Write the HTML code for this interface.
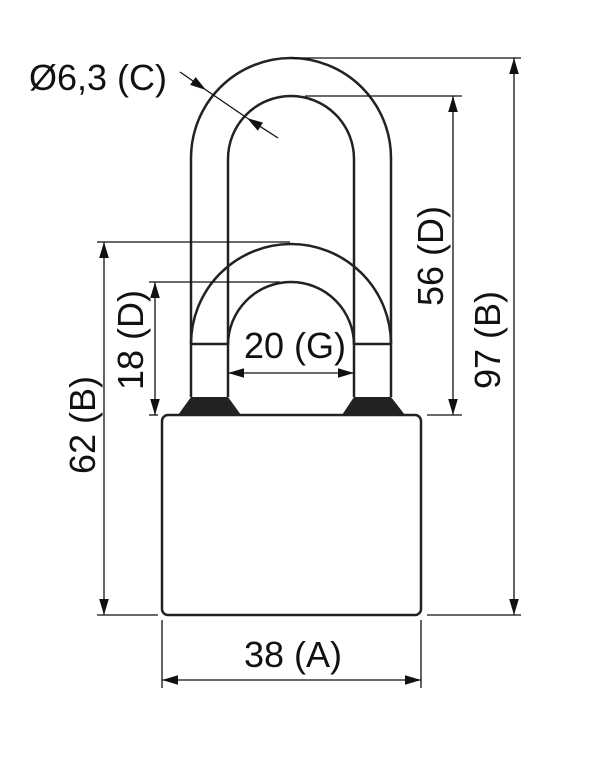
<!DOCTYPE html>
<html><head><style>html,body{margin:0;padding:0;background:#fff}</style></head><body>
<svg width="605" height="763" viewBox="0 0 605 763" xmlns="http://www.w3.org/2000/svg" font-family="Liberation Sans, sans-serif" font-size="36">
<defs>
<marker id="a" viewBox="0 0 10 10" refX="10" refY="5" markerWidth="16" markerHeight="16" markerUnits="userSpaceOnUse" orient="auto-start-reverse"><path d="M0,2 L10,5 L0,8 z" fill="#111"/></marker>
</defs>
<g fill="none" stroke="#222" stroke-width="2.5">
<path d="M191,397 V158 A100,100 0 0 1 391,158 V397"/>
<path d="M228,397 V159 A63,63 0 0 1 354,159 V397"/>
<path d="M191,344 A100,100 0 0 1 391,344"/>
<path d="M228,345 A63,63 0 0 1 354,345"/>
<line x1="191" y1="344" x2="228" y2="344"/>
<line x1="354" y1="344" x2="391" y2="344"/>
<rect x="162" y="415" width="259" height="200" rx="6"/>
</g>
<path d="M191,397 H228 L241,415 H178 Z" fill="#222"/>
<path d="M354,397 H391 L405,415 H342 Z" fill="#222"/>
<g stroke="#111" stroke-width="1.3" fill="none">
<line x1="291" y1="58" x2="521" y2="58"/>
<line x1="305" y1="96" x2="462" y2="96"/>
<line x1="427" y1="415" x2="462" y2="415"/>
<line x1="427" y1="615" x2="521" y2="615"/>
<line x1="97" y1="242" x2="290" y2="242"/>
<line x1="149" y1="282" x2="280" y2="282"/>
<line x1="97" y1="615" x2="158" y2="615"/>
<line x1="149" y1="415" x2="158" y2="415"/>
<line x1="162" y1="620" x2="162" y2="688"/>
<line x1="421" y1="620" x2="421" y2="688"/>
<line x1="514" y1="58" x2="514" y2="615" marker-start="url(#a)" marker-end="url(#a)"/>
<line x1="453" y1="96" x2="453" y2="415" marker-start="url(#a)" marker-end="url(#a)"/>
<line x1="104" y1="242" x2="104" y2="615" marker-start="url(#a)" marker-end="url(#a)"/>
<line x1="155" y1="282" x2="155" y2="415" marker-start="url(#a)" marker-end="url(#a)"/>
<line x1="162" y1="680" x2="421" y2="680" marker-start="url(#a)" marker-end="url(#a)"/>
<line x1="228" y1="373" x2="354" y2="373" marker-start="url(#a)" marker-end="url(#a)"/>
<line x1="180" y1="72" x2="206" y2="90" marker-end="url(#a)"/>
<line x1="278" y1="138" x2="247" y2="118" marker-end="url(#a)"/>
<line x1="206" y1="90" x2="247" y2="118"/>
</g>
<g fill="#111">
<text x="29" y="90">Ø6,3 (C)</text>
<text x="295" y="358" text-anchor="middle">20 (G)</text>
<text x="293" y="667" text-anchor="middle">38 (A)</text>
<text transform="translate(443,256) rotate(-90)" text-anchor="middle">56 (D)</text>
<text transform="translate(500,340) rotate(-90)" text-anchor="middle">97 (B)</text>
<text transform="translate(143,340) rotate(-90)" text-anchor="middle">18 (D)</text>
<text transform="translate(95,425) rotate(-90)" text-anchor="middle">62 (B)</text>
</g>
</svg>
</body></html>
